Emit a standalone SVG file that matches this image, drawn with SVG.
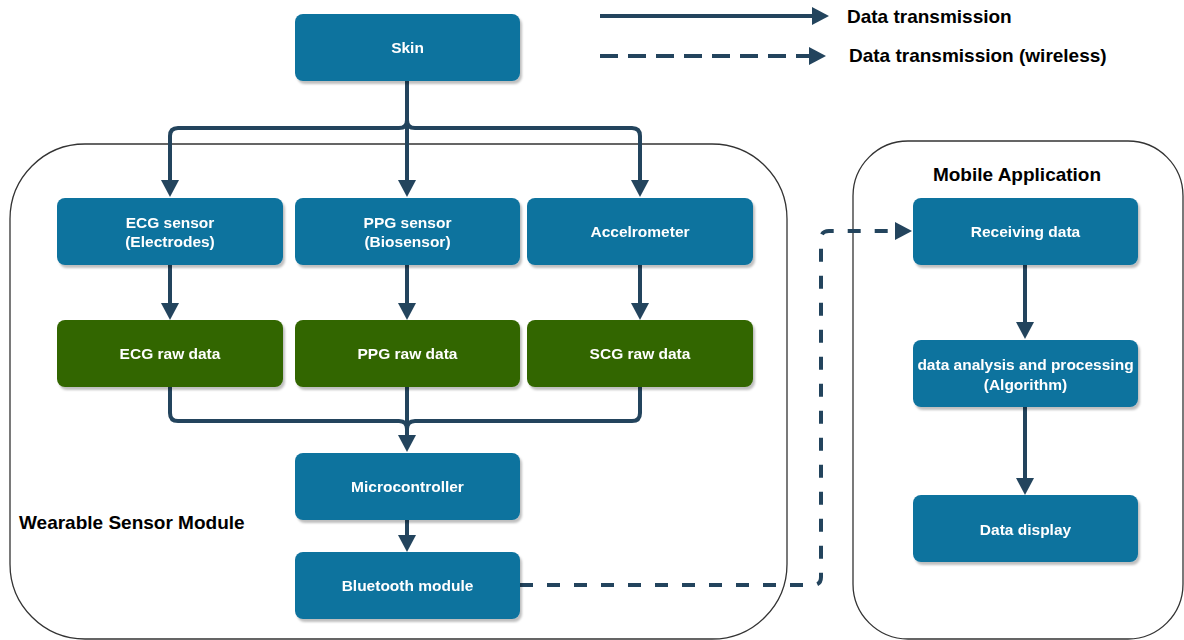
<svg xmlns="http://www.w3.org/2000/svg" width="1184" height="640" viewBox="0 0 1184 640">
<style>
.node{fill:#10739E;}
.green{fill:#336600;}
.nt{font-family:"Liberation Sans",Arial,sans-serif;font-weight:bold;font-size:15.5px;fill:#ffffff;text-anchor:middle;}
.lbl{font-family:"Liberation Sans",Arial,sans-serif;font-weight:bold;font-size:19px;fill:#000000;}
.cont{fill:none;stroke:#333333;stroke-width:1.3;}
.conn{fill:none;stroke:#23445D;stroke-width:4;}
.dash{stroke-dasharray:13 14;}
</style>
<defs>
<filter id="sh" x="-10%" y="-10%" width="130%" height="140%">
<feDropShadow dx="2" dy="3" stdDeviation="1" flood-color="#000" flood-opacity="0.25"/>
</filter>
<marker id="ah" markerUnits="userSpaceOnUse" viewBox="0 0 17 18" markerWidth="17" markerHeight="18" refX="3" refY="9" orient="auto">
<path d="M0,0 L17,9 L0,18 Z" fill="#23445D"/>
</marker>
</defs>
<rect width="1184" height="640" fill="#ffffff"/>

<g id="containers">
<rect class="cont" x="10" y="144" width="777" height="495" rx="75" ry="75"/>
<rect class="cont" x="853" y="141" width="330" height="498" rx="55" ry="55"/>
<text class="lbl" x="19" y="529">Wearable Sensor Module</text>
<text class="lbl" x="1017" y="181" text-anchor="middle">Mobile Application</text>
</g>

<g id="legend">
<path class="conn" d="M600,16 H815" marker-end="url(#ah)"/>
<path class="conn" d="M600,56 H812" stroke-dasharray="18 10" marker-end="url(#ah)"/>
<text class="lbl" x="847" y="23">Data transmission</text>
<text class="lbl" x="849" y="62">Data transmission (wireless)</text>
</g>

<g id="connectors">
<path class="conn" d="M407,81 V183" marker-end="url(#ah)"/>
<path class="conn" d="M407,81 V120 Q407,128 399,128 H178 Q170,128 170,136 V183" marker-end="url(#ah)"/>
<path class="conn" d="M407,120 Q407,128 415,128 H632 Q640,128 640,136 V183" marker-end="url(#ah)"/>
<path class="conn" d="M170,265 V306" marker-end="url(#ah)"/>
<path class="conn" d="M407,265 V306" marker-end="url(#ah)"/>
<path class="conn" d="M640,265 V306" marker-end="url(#ah)"/>
<path class="conn" d="M407,387 V438" marker-end="url(#ah)"/>
<path class="conn" d="M170,387 V413 Q170,421 178,421 H399 Q407,421 407,429 V438"/>
<path class="conn" d="M640,387 V413 Q640,421 632,421 H415 Q407,421 407,429"/>
<path class="conn" d="M407,520 V538" marker-end="url(#ah)"/>
<path class="conn dash" d="M520,585 H813 Q821,585 821,577 V239 Q821,231 829,231 H898" marker-end="url(#ah)"/>
<path class="conn" d="M1025,265 V325" marker-end="url(#ah)"/>
<path class="conn" d="M1025,407 V481" marker-end="url(#ah)"/>
</g>

<g id="skin" filter="url(#sh)">
<rect class="node" x="295" y="14" width="225" height="67" rx="8"/>
<text class="nt" x="407.5" y="53">Skin</text>
</g>
<g id="ecg-sensor" filter="url(#sh)">
<rect class="node" x="57" y="198" width="226" height="67" rx="8"/>
<text class="nt" x="170" y="228">ECG sensor</text>
<text class="nt" x="170" y="247">(Electrodes)</text>
</g>
<g id="ppg-sensor" filter="url(#sh)">
<rect class="node" x="295" y="198" width="225" height="67" rx="8"/>
<text class="nt" x="407.5" y="228">PPG sensor</text>
<text class="nt" x="407.5" y="247">(Biosensor)</text>
</g>
<g id="accelerometer" filter="url(#sh)">
<rect class="node" x="527" y="198" width="226" height="67" rx="8"/>
<text class="nt" x="640" y="237">Accelrometer</text>
</g>
<g id="ecg-raw" filter="url(#sh)">
<rect class="green" x="57" y="320" width="226" height="67" rx="8"/>
<text class="nt" x="170" y="359">ECG raw data</text>
</g>
<g id="ppg-raw" filter="url(#sh)">
<rect class="green" x="295" y="320" width="225" height="67" rx="8"/>
<text class="nt" x="407.5" y="359">PPG raw data</text>
</g>
<g id="scg-raw" filter="url(#sh)">
<rect class="green" x="527" y="320" width="226" height="67" rx="8"/>
<text class="nt" x="640" y="359">SCG raw data</text>
</g>
<g id="microcontroller" filter="url(#sh)">
<rect class="node" x="295" y="453" width="225" height="67" rx="8"/>
<text class="nt" x="407.5" y="492">Microcontroller</text>
</g>
<g id="bluetooth" filter="url(#sh)">
<rect class="node" x="295" y="552" width="225" height="67" rx="8"/>
<text class="nt" x="407.5" y="591">Bluetooth module</text>
</g>
<g id="receiving" filter="url(#sh)">
<rect class="node" x="913" y="198" width="225" height="67" rx="8"/>
<text class="nt" x="1025.5" y="237">Receiving data</text>
</g>
<g id="analysis" filter="url(#sh)">
<rect class="node" x="913" y="340" width="225" height="67" rx="8"/>
<text class="nt" x="1025.5" y="370">data analysis and processing</text>
<text class="nt" x="1025.5" y="390">(Algorithm)</text>
</g>
<g id="display" filter="url(#sh)">
<rect class="node" x="913" y="495" width="225" height="67" rx="8"/>
<text class="nt" x="1025.5" y="535">Data display</text>
</g>
</svg>
